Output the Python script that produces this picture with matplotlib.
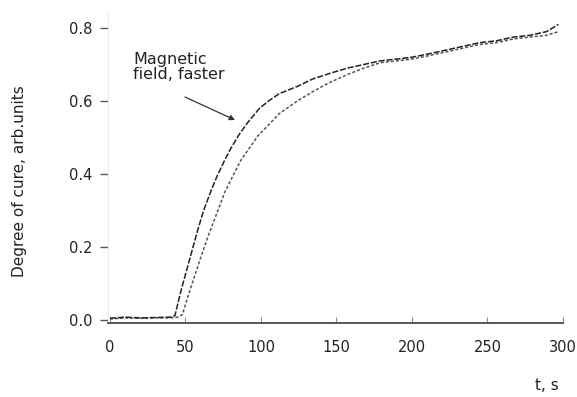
import matplotlib
matplotlib.use("Agg")
import matplotlib.pyplot as plt

# Données (temps en s, degré de cuisson en unités arbitraires)
t_fast = [0, 10, 20, 30, 40, 43, 47, 53, 58, 62, 67, 71, 75, 80, 85, 91, 99, 105,
          112, 124, 134, 145, 157, 168, 179, 190, 200, 212, 223, 234, 245, 256,
          267, 278, 289, 297]
cure_fast = [0.005, 0.008, 0.006, 0.007, 0.008, 0.012, 0.08, 0.17, 0.245, 0.30, 0.355,
             0.395, 0.43, 0.47, 0.505, 0.54, 0.58, 0.60, 0.62, 0.64, 0.66, 0.675, 0.69,
             0.70, 0.71, 0.715, 0.72, 0.73, 0.74, 0.75, 0.76, 0.765, 0.775, 0.78,
             0.79, 0.81]

t_slow = [0, 10, 20, 30, 40, 45, 48, 52, 56, 60, 65, 71, 76, 82, 87, 93, 98, 104,
          112, 124, 134, 145, 157, 168, 179, 190, 200, 212, 223, 234, 245, 256,
          267, 278, 289, 297]
cure_slow = [0.003, 0.006, 0.005, 0.006, 0.006, 0.008, 0.015, 0.07, 0.12, 0.17, 0.23,
             0.295, 0.35, 0.40, 0.44, 0.475, 0.505, 0.53, 0.565, 0.60, 0.625, 0.65,
             0.672, 0.69, 0.705, 0.71, 0.715, 0.725, 0.735, 0.745, 0.755, 0.76,
             0.77, 0.775, 0.78, 0.79]

x_ticks = [0, 50, 100, 150, 200, 250, 300]
y_ticks = [0.0, 0.2, 0.4, 0.6, 0.8]

fig = plt.figure(figsize=(5.77, 3.97), dpi=100)
ax = fig.add_axes([0.1872, 0.1864, 0.7885, 0.7798])

# Courbes
ax.plot(t_slow, cure_slow, color="#555555", lw=1.1, linestyle=(0, (2, 1.3)))
ax.plot(t_fast, cure_fast, color="#222222", lw=1.1, linestyle=(0, (4, 1.2)))

ax.set_xlim(-1.3, 300)
ax.set_ylim(-0.008, 0.84)

# Axes et graduations
for side in ["top", "right"]:
    ax.spines[side].set_visible(False)
ax.spines["left"].set_color("#ececec")
ax.spines["bottom"].set_color("#4a4a55")
ax.spines["bottom"].set_linewidth(1.3)

ax.set_xticks(x_ticks)
ax.set_xticklabels([str(v) for v in x_ticks])
ax.set_yticks(y_ticks)
ax.set_yticklabels([f"{v:.1f}" for v in y_ticks])
ax.tick_params(axis="x", direction="in", length=4, width=0.8, color="#888888",
               pad=12, labelsize=10.5, labelcolor="#222222")
ax.tick_params(axis="y", direction="out", length=6, width=1.0, color="#555555",
               pad=5.5, labelsize=10.5, labelcolor="#222222")

# Annotation : texte puis flèche séparée
ax.text(15.2, 0.735, "Magnetic\nfield, faster", ha="left", va="top",
        fontsize=11.5, color="#222222", linespacing=1.05)
ax.annotate("", xy=(82.8, 0.548), xytext=(49.7, 0.611),
            arrowprops=dict(arrowstyle="-|>", color="#333333", lw=0.9,
                            mutation_scale=8, shrinkA=0, shrinkB=0))

# Titres des axes
fig.text(20 / 577, 1 - 181 / 397, "Degree of cure, arb.units", rotation=90,
         ha="center", va="center", fontsize=11, color="#222222")
fig.text(547 / 577, 1 - 385 / 397, "t, s", ha="center", va="center",
         fontsize=11, color="#222222")

fig.savefig("out.png", dpi=100)
